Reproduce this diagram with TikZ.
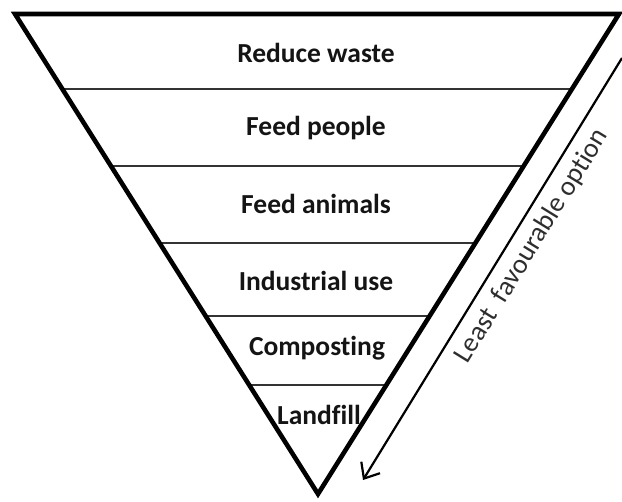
\documentclass[tikz,border=0pt]{standalone}
\usepackage{fontspec}
\setmainfont[Ligatures={NoCommon,NoContextual}]{Carlito}
\usetikzlibrary{calc,arrows.meta}
\begin{document}
\begin{tikzpicture}[x=1pt,y=-1pt,
  tier/.style={font=\fontsize{27.5}{33}\selectfont\bfseries, text=black!92, inner sep=0pt, anchor=center},
  tierline/.style={line width=1.8pt, draw=black!80},
  frame/.style={line width=4.6pt, line join=miter, draw=black},
  hint/.style={font=\fontsize{27.5}{33}\selectfont, text=black!82, inner sep=0pt, anchor=center},
  hintarrow/.style={line width=2.2pt, draw=black, -{Straight Barb[length=13pt,width=22pt,line width=2.2pt]}}]
\useasboundingbox (0,0) rectangle (622,502);
\coordinate (A) at (15,14);
\coordinate (B) at (619,14);
\coordinate (C) at (318,494);
% tier separators
\foreach \t in {0.15625,0.31667,0.47708,0.62917,0.77292}
  \draw[tierline] ($(A)!\t!(C)$) -- ($(B)!\t!(C)$);
% outline
\draw[frame] (A) -- (B) -- (C) -- cycle;
% tier labels
\node[tier] (n1) at (316,53) {Reduce waste};
\node[tier] (n2) at (316,128) {Feed people};
\node[tier] (n3) at (316,204) {Feed animals};
\node[tier] (n4) at (316,281) {Industrial use};
\node[tier] (n5) at (317,348) {Composting};
\node[tier] (n6) at (319,415) {Landfill};
% arrow
\coordinate (as) at (622,58);
\coordinate (ae) at (363,480);
\draw[hintarrow] (as) -- (ae);
\node[hint, rotate=58.4] (lbl) at (532,246) {Least\ \ favourable option};
\end{tikzpicture}
\end{document}
